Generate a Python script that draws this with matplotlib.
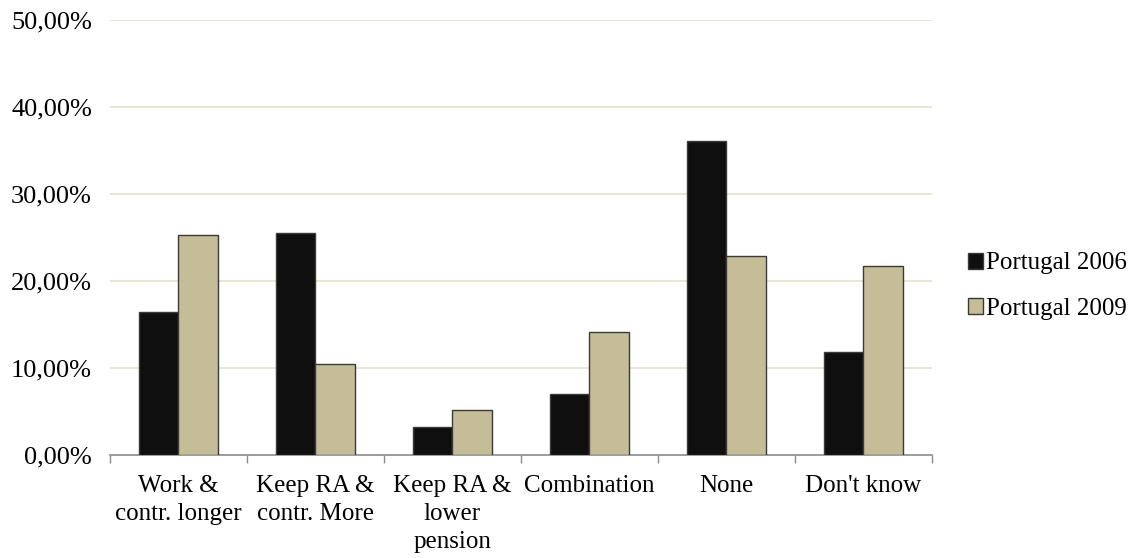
import numpy as np
import matplotlib
matplotlib.use("Agg")
import matplotlib.pyplot as plt
from matplotlib.ticker import FuncFormatter, FixedLocator

plt.rcParams['font.family'] = ['Liberation Serif', 'DejaVu Serif']

categories = ["Work &\ncontr. longer", "Keep RA &\ncontr. More", "Keep RA &\nlower\npension",
              "Combination", "None", "Don't know"]
portugal_2006 = [16.45, 25.5, 3.2, 7.0, 36.1, 11.8]
portugal_2009 = [25.3, 10.4, 5.1, 14.1, 22.9, 21.75]
series_names = ["Portugal 2006", "Portugal 2009"]

fig = plt.figure(figsize=(11.37, 5.58), dpi=100)
ax = fig.add_axes([0.0967, 0.1853, 0.7230, 0.7781])

x = np.arange(len(categories))
w = 0.29
ax.bar(x - w / 2, portugal_2006, w, color="#0f0f0f", edgecolor="#3a3a3a", linewidth=1,
       label=series_names[0], zorder=3)
ax.bar(x + w / 2, portugal_2009, w, color="#c4bd98", edgecolor="#3a3a3a", linewidth=1,
       label=series_names[1], zorder=3)

ax.set_xlim(-0.5, len(categories) - 0.5)
ax.set_ylim(0, 50)
ax.set_yticks(np.arange(0, 51, 10))
ax.yaxis.set_major_formatter(FuncFormatter(lambda v, p: f"{v:.2f}%".replace(".", ",")))
ax.yaxis.grid(True, color="#e6e2cc", linewidth=1.2, zorder=0)
ax.set_axisbelow(True)

ax.set_xticks(x)
ax.set_xticklabels(categories, fontsize=18, linespacing=1.35)
ax.xaxis.set_minor_locator(FixedLocator(np.arange(-0.5, len(categories), 1.0)))
ax.tick_params(axis="x", which="major", length=0, pad=15)
ax.tick_params(axis="x", which="minor", length=6, color="#8c8c8c", width=1)
ax.tick_params(axis="y", length=0, pad=13, labelsize=19)

for side in ["top", "right", "left"]:
    ax.spines[side].set_visible(False)
ax.spines["bottom"].set_color("#8c8c8c")
ax.spines["bottom"].set_linewidth(1.2)

# legend sits to the right of the plot area
fig.legend(loc="center left", bbox_to_anchor=(0.8425, 0.487), frameon=False, fontsize=18,
           handlelength=0.6, handleheight=0.6, handletextpad=0.12, labelspacing=0.95,
           borderaxespad=0)

fig.savefig("out.png", dpi=100)
